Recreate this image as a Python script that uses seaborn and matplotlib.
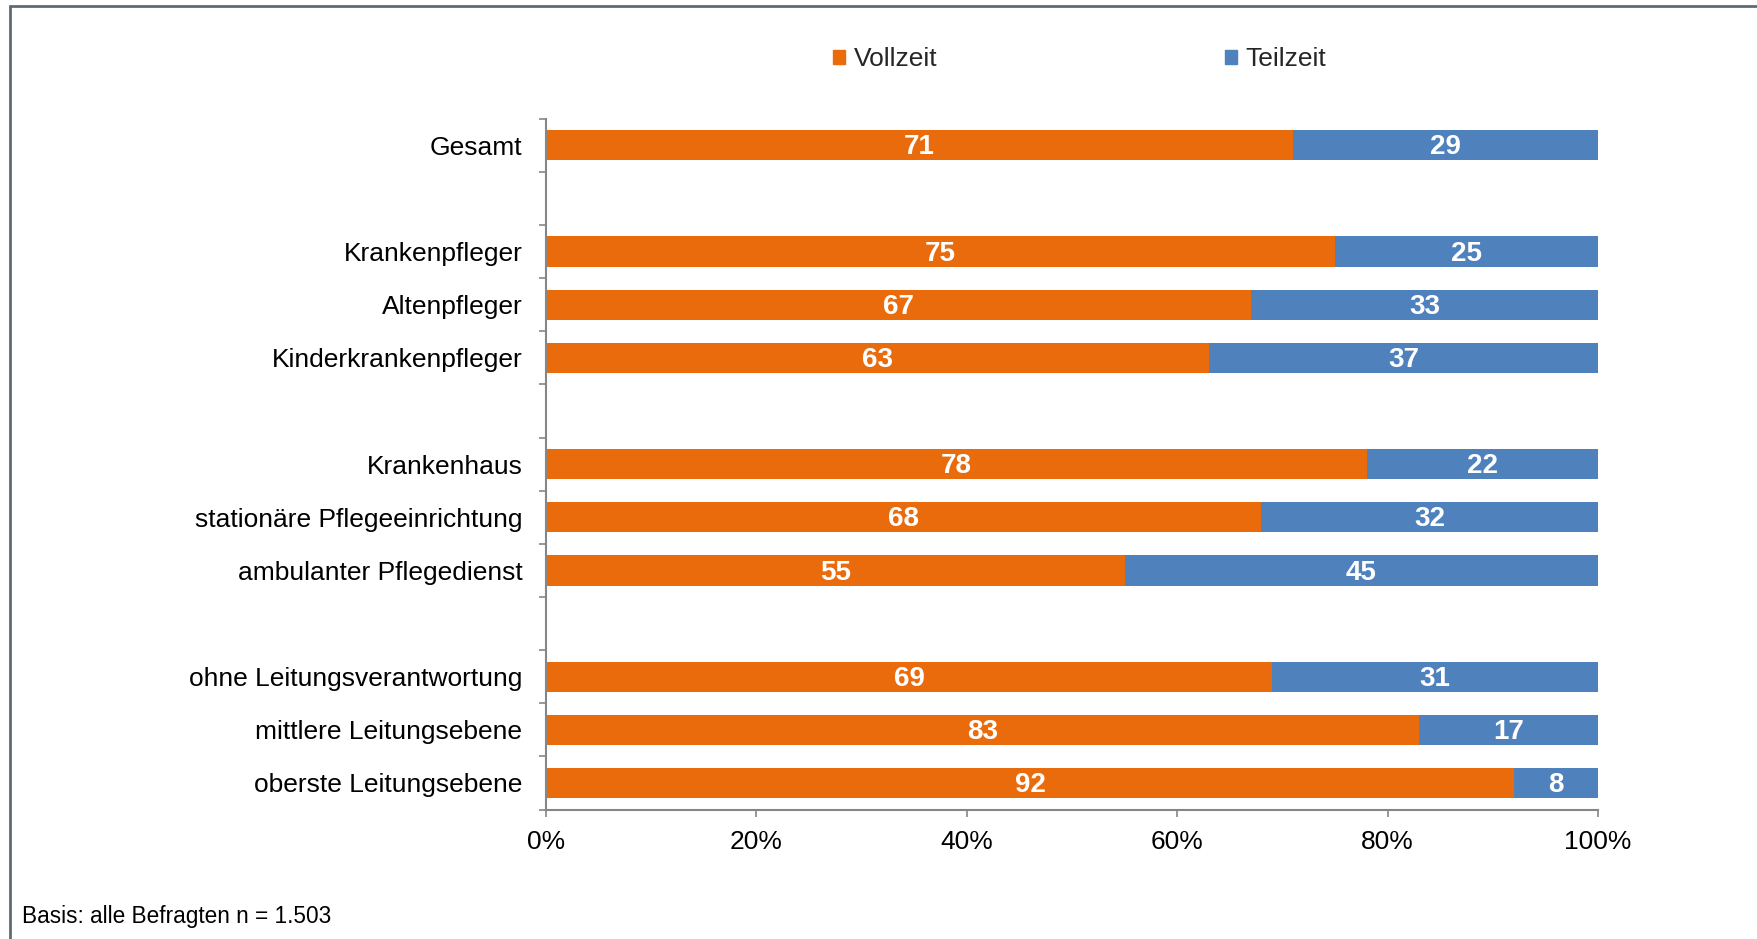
import numpy as np
import pandas as pd
import seaborn as sns
import matplotlib.pyplot as plt
from matplotlib.patches import Patch
from matplotlib.lines import Line2D

categories = ['Gesamt',
              'Krankenpfleger', 'Altenpfleger', 'Kinderkrankenpfleger',
              'Krankenhaus', 'stationäre Pflegeeinrichtung', 'ambulanter Pflegedienst',
              'ohne Leitungsverantwortung', 'mittlere Leitungsebene', 'oberste Leitungsebene']
vollzeit = [71, 75, 67, 63, 78, 68, 55, 69, 83, 92]
teilzeit = [29, 25, 33, 37, 22, 32, 45, 31, 17, 8]

# empty rows separate the groups
order = ['Gesamt', ' ',
         'Krankenpfleger', 'Altenpfleger', 'Kinderkrankenpfleger', '  ',
         'Krankenhaus', 'stationäre Pflegeeinrichtung', 'ambulanter Pflegedienst', '   ',
         'ohne Leitungsverantwortung', 'mittlere Leitungsebene', 'oberste Leitungsebene']

ORANGE = '#EA6B0C'
BLUE = '#4F81BD'
GRAY = '#868686'

sns.set_style('white')
plt.rcParams['font.family'] = ['Liberation Sans', 'DejaVu Sans']

df = pd.DataFrame({'Kategorie': categories, 'Vollzeit': vollzeit, 'Teilzeit': teilzeit})
df['Summe'] = df['Vollzeit'] + df['Teilzeit']

fig = plt.figure(figsize=(17.58, 9.39), dpi=100)
ax = fig.add_axes([0.3106, 0.1379, 0.5984, 0.7356])

sns.barplot(data=df, y='Kategorie', x='Summe', order=order, orient='h', color=BLUE,
            saturation=1, width=0.57, errorbar=None, linewidth=0, ax=ax)
sns.barplot(data=df, y='Kategorie', x='Vollzeit', order=order, orient='h', color=ORANGE,
            saturation=1, width=0.57, errorbar=None, linewidth=0, ax=ax)

for _, row in df.iterrows():
    y = order.index(row['Kategorie'])
    ax.text(row['Vollzeit'] / 2, y + 0.04, str(row['Vollzeit']), ha='center', va='center',
            color='white', fontsize=20, fontweight='bold')
    ax.text(row['Vollzeit'] + row['Teilzeit'] / 2, y + 0.04, str(row['Teilzeit']), ha='center',
            va='center', color='white', fontsize=20, fontweight='bold')

ax.set_xlim(0, 100)
ax.set_ylim(len(order) - 0.5, -0.5)
ax.set_xticks(np.arange(0, 101, 20))
ax.set_xticklabels([f'{v}%' for v in range(0, 101, 20)])
ax.set_yticks(range(len(order)))
ax.set_yticklabels(order)
ax.set_yticks(np.arange(-0.5, len(order), 1), minor=True)
ax.set_xlabel('')
ax.set_ylabel('')

ax.tick_params(axis='y', which='major', length=0, pad=17, labelsize=19, labelcolor='black')
ax.tick_params(axis='y', which='minor', length=5, width=1.2, color=GRAY, direction='out', left=True)
ax.tick_params(axis='x', which='major', length=5, width=1.2, color=GRAY, direction='out',
               bottom=True, pad=10, labelsize=19, labelcolor='black')

for side in ['top', 'right']:
    ax.spines[side].set_visible(False)
for side in ['left', 'bottom']:
    ax.spines[side].set_color(GRAY)
    ax.spines[side].set_linewidth(1.5)

handles = [Patch(color=ORANGE, label='Vollzeit'), Patch(color=BLUE, label='Teilzeit')]
fig.legend(handles=handles, loc='center', bbox_to_anchor=(0.614, 0.937), ncol=2,
           frameon=False, fontsize=19, handlelength=0.47, handleheight=0.47,
           handletextpad=0.3, columnspacing=10.9)

fig.text(0.0125, 0.012, 'Basis: alle Befragten n = 1.503', fontsize=16.3, color='black',
         ha='left', va='bottom')

# outer frame, open on the right and at the bottom
fig.add_artist(Line2D([0.0057, 0.0057], [0, 0.9935], color='#5f6b73', linewidth=2))
fig.add_artist(Line2D([0.0057, 1.0], [0.9935, 0.9935], color='#5f6b73', linewidth=2))

fig.savefig('out.png', dpi=100)
